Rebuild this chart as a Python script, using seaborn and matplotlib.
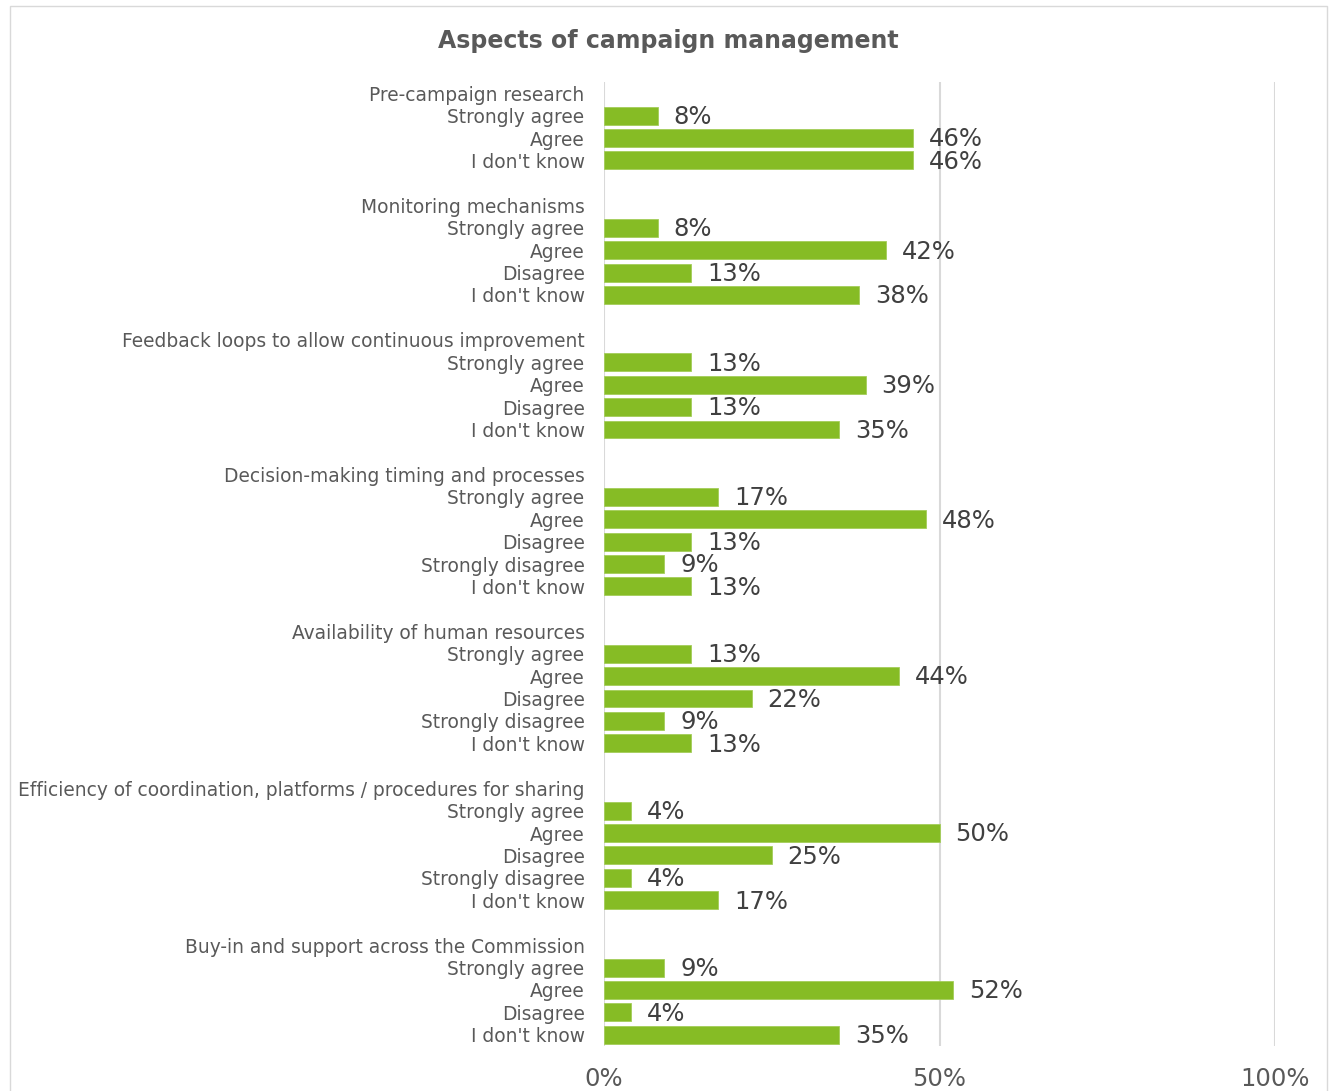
import matplotlib
matplotlib.use("Agg")
import matplotlib.pyplot as plt
from matplotlib.patches import Rectangle
import seaborn as sns
import pandas as pd

# ---- data ----
title = "Aspects of campaign management"
groups = [
    "Pre-campaign research",
    "Monitoring mechanisms",
    "Feedback loops to allow continuous improvement",
    "Decision-making timing and processes",
    "Availability of human resources",
    "Efficiency of coordination, platforms / procedures for sharing",
    "Buy-in and support across the Commission",
]
answers = [
    ["Strongly agree", "Agree", "I don't know"],
    ["Strongly agree", "Agree", "Disagree", "I don't know"],
    ["Strongly agree", "Agree", "Disagree", "I don't know"],
    ["Strongly agree", "Agree", "Disagree", "Strongly disagree", "I don't know"],
    ["Strongly agree", "Agree", "Disagree", "Strongly disagree", "I don't know"],
    ["Strongly agree", "Agree", "Disagree", "Strongly disagree", "I don't know"],
    ["Strongly agree", "Agree", "Disagree", "I don't know"],
]
values = [
    [8, 46, 46],
    [8, 42, 13, 38],
    [13, 39, 13, 35],
    [17, 48, 13, 9, 13],
    [13, 44, 22, 9, 13],
    [4, 50, 25, 4, 17],
    [9, 52, 4, 35],
]
x_ticks = [0, 50, 100]
x_ticklabels = ["0%", "50%", "100%"]

# ---- build ordered rows (group header, answers, spacer) ----
order, labels, rows = [], [], []
for gi, g in enumerate(groups):
    order.append(f"h{gi}")
    labels.append(g)
    for ai, (a, v) in enumerate(zip(answers[gi], values[gi])):
        key = f"g{gi}_{ai}"
        order.append(key)
        labels.append(a)
        rows.append({"key": key, "value": v})
    if gi < len(groups) - 1:
        order.append(f"s{gi}")
        labels.append("")
df = pd.DataFrame(rows)

sns.set_style("white")
plt.rcParams["font.family"] = ["DejaVu Sans"]

W, H = 1331, 1091
fig = plt.figure(figsize=(W / 100, H / 100), dpi=100)
ax = fig.add_axes([604 / W, 1 - 1046 / H, (1275 - 604) / W, (1046 - 82) / H])

sns.barplot(data=df, x="value", y="key", order=order, orient="h",
            color="#86BC25", saturation=1, width=0.8, errorbar=None,
            edgecolor="#A4CD5A", linewidth=0.6, ax=ax)

ax.set_xlim(0, 100)
ax.set_ylim(len(order) - 0.5, -0.5)
ax.set_xticks(x_ticks)
ax.set_xticklabels(x_ticklabels, fontsize=17.5, color="#595959")
ax.set_yticks(range(len(order)))
ax.set_yticklabels(labels, fontsize=13.4, color="#595959")
ax.tick_params(axis="both", length=0)
ax.tick_params(axis="x", pad=15)
ax.tick_params(axis="y", pad=14)
ax.set_xlabel("")
ax.set_ylabel("")
for s in ax.spines.values():
    s.set_visible(False)
ax.xaxis.grid(True, color="#D9D9D9", lw=1.5)
ax.set_axisbelow(True)

for p in ax.patches:
    w = p.get_width()
    if w > 0:
        ax.annotate(f"{w:.0f}%", (w, p.get_y() + p.get_height() / 2),
                    xytext=(11.5, -1), textcoords="offset points",
                    ha="left", va="center", fontsize=17.5, color="#404040")

fig.text(668.5 / W, 1 - 41 / H, title, ha="center", va="center",
         fontsize=17, fontweight="bold", color="#595959")

fig.patches.append(Rectangle((10 / W, -0.1), (1327 - 10) / W, 1 - 6 / H + 0.1,
                             transform=fig.transFigure, fill=False,
                             edgecolor="#D9D9D9", lw=1))

fig.savefig("out.png", dpi=100, facecolor="white")
